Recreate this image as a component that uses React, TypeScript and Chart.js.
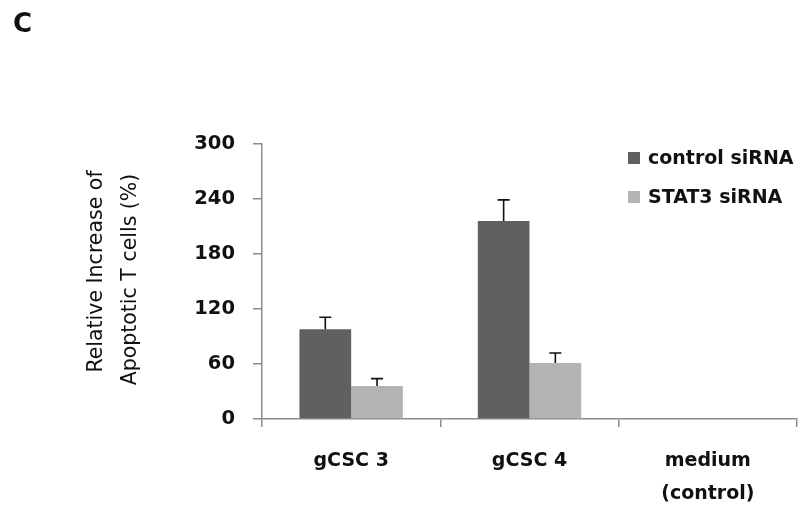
import { useEffect, useRef } from 'react';
import { Chart, registerables } from 'chart.js';

Chart.register(...registerables);

// ---- data ----
const categories: (string | string[])[] = ['gCSC 3', 'gCSC 4', ['medium', '(control)']];
const seriesNames = ['control siRNA', 'STAT3 siRNA'];
const controlValues = [98, 216, null];
const controlErrors = [13, 23, null];
const stat3Values = [36, 61, null];
const stat3Errors = [8, 11, null];
const yTicks = [0, 60, 120, 180, 240, 300];
const panelLabel = 'C';
const yTitle = ['Relative Increase of', 'Apoptotic T cells (%)'];

const seriesColors = ['#606060', '#b3b3b3'];
const axisColor = '#8c8c8c';
const textColor = '#111111';
const boldFont = 'DejaVu Sans';

const overlay = {
  id: 'overlay',
  afterDatasetsDraw(chart: any) {
    const ctx = chart.ctx;
    const ys = chart.scales.y;
    chart.data.datasets.forEach((ds: any, di: number) => {
      const meta = chart.getDatasetMeta(di);
      meta.data.forEach((bar: any, i: number) => {
        const v = ds.data[i];
        const e = ds.errors[i];
        if (v == null || e == null) return;
        const x = bar.x;
        const y0 = ys.getPixelForValue(v);
        const y1 = ys.getPixelForValue(v + e);
        ctx.save();
        ctx.strokeStyle = textColor;
        ctx.lineWidth = 1.6;
        ctx.beginPath();
        ctx.moveTo(x, y0);
        ctx.lineTo(x, y1);
        ctx.moveTo(x - 6, y1);
        ctx.lineTo(x + 6, y1);
        ctx.stroke();
        ctx.restore();
      });
    });
  },
  afterDraw(chart: any) {
    const ctx = chart.ctx;
    const area = chart.chartArea;
    ctx.save();
    // panel label
    ctx.fillStyle = textColor;
    ctx.font = `bold 26px "${boldFont}"`;
    ctx.textAlign = 'left';
    ctx.textBaseline = 'alphabetic';
    ctx.fillText(panelLabel, 13, 32);

    // y-axis title
    const mid = (area.top + area.bottom) / 2;
    ctx.font = '20.5px "DejaVu Sans"';
    ctx.textAlign = 'center';
    ctx.textBaseline = 'middle';
    const xs = [97, 131];
    const cys = [mid - 10, mid - 2];
    yTitle.forEach((line, i) => {
      ctx.save();
      ctx.translate(xs[i], cys[i]);
      ctx.rotate(-Math.PI / 2);
      ctx.fillText(line, 0, 0);
      ctx.restore();
    });

    // legend
    ctx.font = `bold 19px "${boldFont}"`;
    ctx.textAlign = 'left';
    ctx.textBaseline = 'middle';
    const ly = [158, 197];
    chart.data.datasets.forEach((ds: any, i: number) => {
      ctx.fillStyle = ds.backgroundColor;
      ctx.fillRect(628, ly[i] - 6, 12, 12);
      ctx.fillStyle = textColor;
      ctx.fillText(ds.label, 648, ly[i] + 1);
    });
    ctx.restore();
  },
};

export default function App() {
  const ref = useRef<HTMLCanvasElement | null>(null);
  useEffect(() => {
    if (!ref.current) return;
    const chart = new Chart(ref.current, {
      type: 'bar',
      data: {
        labels: categories,
        datasets: [
          { label: seriesNames[0], data: controlValues, backgroundColor: seriesColors[0], errors: controlErrors } as any,
          { label: seriesNames[1], data: stat3Values, backgroundColor: seriesColors[1], errors: stat3Errors } as any,
        ],
      },
      options: {
        animation: false,
        responsive: false,
        maintainAspectRatio: false,
        layout: { padding: { top: 144, right: 1, bottom: 0, left: 0 } },
        datasets: { bar: { categoryPercentage: 0.58, barPercentage: 1 } },
        plugins: { legend: { display: false }, tooltip: { enabled: false }, title: { display: false } },
        scales: {
          x: {
            afterFit: (s: any) => { s.height = 87; },
            grid: { display: true, drawOnChartArea: false, drawTicks: true, tickLength: 8, color: axisColor, lineWidth: 1.5, offset: true },
            border: { display: true, color: axisColor, width: 1.5 },
            ticks: { color: textColor, font: { family: boldFont, size: 19, weight: 'bold', lineHeight: 1.75 }, padding: 17, maxRotation: 0 },
          },
          y: {
            min: yTicks[0],
            max: yTicks[yTicks.length - 1],
            afterFit: (s: any) => { s.width = 262; },
            afterBuildTicks: (s: any) => { s.ticks = yTicks.map((v) => ({ value: v })); },
            grid: { display: true, drawOnChartArea: false, drawTicks: true, tickLength: 9, color: axisColor, lineWidth: 1.5 },
            border: { display: true, color: axisColor, width: 1.5 },
            ticks: { color: textColor, font: { family: boldFont, size: 19.5, weight: 'bold' }, padding: 18 },
          },
        },
      } as any,
      plugins: [overlay],
    });
    return () => chart.destroy();
  }, []);
  return (
    <div style={{ position: 'absolute', left: 0, top: 0, width: 798, height: 506, background: '#fff' }}>
      <canvas ref={ref} width={798} height={506} style={{ display: 'block', width: 798, height: 506 }} />
    </div>
  );
}
